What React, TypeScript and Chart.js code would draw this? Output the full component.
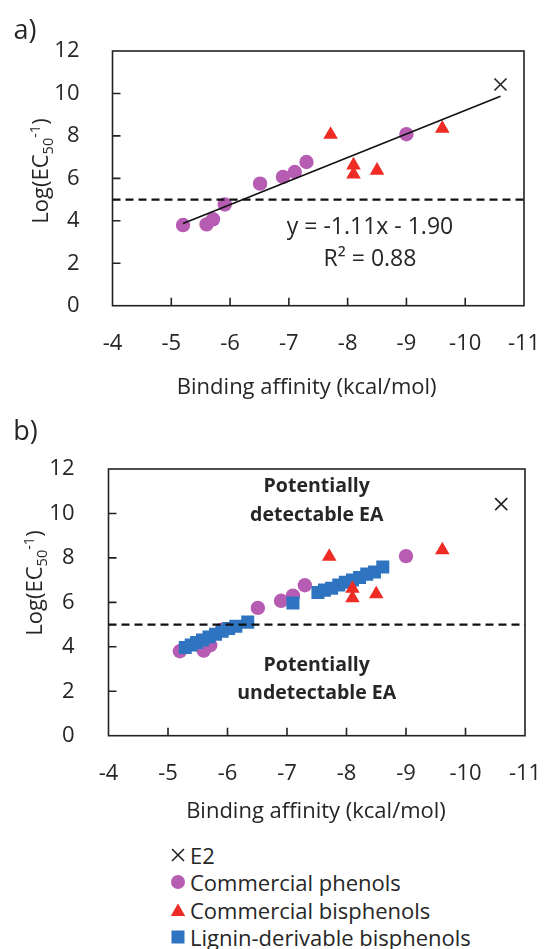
import React, { useEffect, useRef } from "react";
import { Chart, registerables } from "chart.js";

Chart.register(...registerables);

// ---------- data ----------
const xMin = -11;
const xMax = -4;
const yMin = 0;
const yMax = 12;
const xTickMarks = [-5, -6, -7, -8, -9, -10];
const yTickMarks = [2, 4, 6, 8, 10];

const seriesNames = ["E2", "Commercial phenols", "Commercial bisphenols", "Lignin-derivable bisphenols"];

const e2X = [-10.6];
const e2Y = [10.42];

const phenolX = [-5.2, -5.6, -5.71, -5.91, -6.51, -6.9, -7.1, -7.3, -9.0];
const phenolY = [3.8, 3.83, 4.07, 4.77, 5.75, 6.07, 6.3, 6.77, 8.08];

const bisphenolX = [-7.71, -8.1, -8.1, -8.5, -9.61];
const bisphenolY = [8.06, 6.62, 6.19, 6.37, 8.35];

const ligninX = [-5.29, -5.39, -5.48, -5.58, -5.69, -5.8, -5.91, -6.02, -6.14, -6.34, -7.1, -7.52, -7.63, -7.75, -7.87, -7.98, -8.1, -8.22, -8.34, -8.47, -8.61];
const ligninY = [3.97, 4.08, 4.19, 4.31, 4.44, 4.57, 4.7, 4.82, 4.93, 5.11, 5.97, 6.44, 6.55, 6.63, 6.78, 6.9, 7.01, 7.12, 7.27, 7.37, 7.59];

const thresholdY = 5;
const trendSlope = -1.11;
const trendIntercept = -1.9;
const trendXStart = -5.2;
const trendXEnd = -10.6;

const eqText = "y = -1.11x - 1.90";
const r2Text = "R² = 0.88";
const upperText = ["Potentially", "detectable EA"];
const lowerText = ["Potentially", "undetectable EA"];
const xTitle = "Binding affinity (kcal/mol)";

// ---------- styles ----------
const FONT = '"Open Sans", "DejaVu Sans", sans-serif';
const TEXT = "#262626";
const AXIS = "#222222";
const PURPLE = "#B75CB3";
const RED = "#EE2B25";
const BLUE = "#2E74C0";

const pts = (xs: number[], ys: number[]) => xs.map((x, i) => ({ x, y: ys[i] }));

type Ann = { text: string; x: number; y: number; size: number; weight: string };

interface PanelSpec {
  height: number;
  padTop: number;
  padRight: number;
  yAxisWidth: number;
  xAxisHeight: number;
  xTickGap: number;
  yTickPad: number;
  label: string;
  labelPos: [number, number];
  yTitlePos: [number, number];
  xTitlePos: [number, number];
  annotations: Ann[];
  withTrend: boolean;
  withLignin: boolean;
}

function drawYTitle(ctx: CanvasRenderingContext2D, cx: number, cy: number) {
  const parts = [
    { t: "Log(EC", size: 22, dy: 0 },
    { t: "50", size: 14.5, dy: 5 },
    { t: "-1", size: 14.5, dy: -8 },
    { t: ")", size: 22, dy: 0 },
  ];
  ctx.save();
  ctx.translate(cx, cy);
  ctx.rotate(-Math.PI / 2);
  ctx.fillStyle = TEXT;
  ctx.textBaseline = "alphabetic";
  ctx.textAlign = "left";
  let total = 0;
  const widths = parts.map((p) => {
    ctx.font = `${p.size}px ${FONT}`;
    const w = ctx.measureText(p.t).width;
    total += w;
    return w;
  });
  let x = -total / 2;
  const base = 7.8;
  parts.forEach((p, i) => {
    ctx.font = `${p.size}px ${FONT}`;
    ctx.fillText(p.t, x, base + p.dy);
    x += widths[i];
  });
  ctx.restore();
}

function makeDecor(spec: PanelSpec) {
  return {
    id: "decor",
    beforeDatasetsDraw(chart: any) {
      const { ctx, chartArea: a, scales } = chart;
      ctx.save();
      ctx.strokeStyle = AXIS;
      ctx.lineWidth = 1.6;
      ctx.strokeRect(a.left, a.top, a.right - a.left, a.bottom - a.top);
      ctx.beginPath();
      for (const v of xTickMarks) {
        const p = scales.x.getPixelForValue(v);
        ctx.moveTo(p, a.bottom);
        ctx.lineTo(p, a.bottom - 8);
      }
      for (const v of yTickMarks) {
        const p = scales.y.getPixelForValue(v);
        ctx.moveTo(a.left, p);
        ctx.lineTo(a.left + 8, p);
      }
      ctx.stroke();
      ctx.restore();
    },
    afterDraw(chart: any) {
      const { ctx, scales } = chart;
      ctx.save();
      ctx.fillStyle = TEXT;
      ctx.textAlign = "center";
      ctx.textBaseline = "middle";
      ctx.font = `27px ${FONT}`;
      ctx.fillText(spec.label, spec.labelPos[0], spec.labelPos[1]);
      ctx.font = `22px ${FONT}`;
      ctx.fillText(xTitle, spec.xTitlePos[0], spec.xTitlePos[1]);
      for (const an of spec.annotations) {
        ctx.font = `${an.weight} ${an.size}px ${FONT}`;
        ctx.fillText(an.text, scales.x.getPixelForValue(an.x), scales.y.getPixelForValue(an.y));
      }
      ctx.restore();
      drawYTitle(ctx, spec.yTitlePos[0], spec.yTitlePos[1]);
    },
  };
}

function buildConfig(spec: PanelSpec): any {
  const datasets: any[] = [
    {
      label: "threshold",
      data: [
        { x: xMax, y: thresholdY },
        { x: xMin, y: thresholdY },
      ],
      showLine: true,
      pointRadius: 0,
      borderColor: "#111111",
      borderWidth: 2.4,
      borderDash: [8, 5],
    },
  ];
  if (spec.withTrend) {
    datasets.push({
      label: "trend",
      data: [
        { x: trendXStart, y: trendSlope * trendXStart + trendIntercept },
        { x: trendXEnd, y: trendSlope * trendXEnd + trendIntercept },
      ],
      showLine: true,
      pointRadius: 0,
      borderColor: "#111111",
      borderWidth: 1.6,
    });
  }
  datasets.push({
    label: seriesNames[0],
    data: pts(e2X, e2Y),
    pointStyle: "crossRot",
    pointRadius: 8.5,
    borderColor: "#222222",
    borderWidth: 1.6,
    backgroundColor: "#222222",
  });
  datasets.push({
    label: seriesNames[2],
    data: pts(bisphenolX, bisphenolY),
    pointStyle: "triangle",
    pointRadius: 8.4,
    borderWidth: 0,
    backgroundColor: RED,
    borderColor: RED,
  });
  if (spec.withLignin) {
    datasets.push({
      label: seriesNames[3],
      data: pts(ligninX, ligninY),
      pointStyle: "rect",
      pointRadius: 9.2,
      borderWidth: 0,
      backgroundColor: BLUE,
      borderColor: BLUE,
    });
  }
  datasets.push({
    label: seriesNames[1],
    data: pts(phenolX, phenolY),
    pointStyle: "circle",
    pointRadius: 7.2,
    borderWidth: 0,
    backgroundColor: PURPLE,
    borderColor: PURPLE,
  });

  return {
    type: "scatter",
    data: { datasets },
    options: {
      animation: false,
      responsive: false,
      events: [],
      layout: { padding: { top: spec.padTop, right: spec.padRight, left: 0, bottom: 0 } },
      plugins: { legend: { display: false }, tooltip: { enabled: false } },
      scales: {
        x: {
          type: "linear",
          min: xMin,
          max: xMax,
          reverse: true,
          ticks: {
            stepSize: 1,
            padding: 0,
            color: TEXT,
            autoSkip: false,
            maxRotation: 0,
            font: { family: FONT, size: 22 },
          },
          grid: {
            display: true,
            drawOnChartArea: false,
            drawTicks: true,
            tickLength: spec.xTickGap,
            tickColor: "rgba(0,0,0,0)",
          },
          border: { display: false },
          afterFit: (s: any) => {
            s.height = spec.xAxisHeight;
          },
        },
        y: {
          type: "linear",
          min: yMin,
          max: yMax,
          ticks: {
            stepSize: 2,
            padding: spec.yTickPad,
            color: TEXT,
            font: { family: FONT, size: 22 },
          },
          grid: { display: false },
          border: { display: false },
          afterFit: (s: any) => {
            s.width = spec.yAxisWidth;
          },
        },
      },
    },
    plugins: [makeDecor(spec)],
  };
}

const specA: PanelSpec = {
  height: 410,
  padTop: 51,
  padRight: 20,
  yAxisWidth: 112.5,
  xAxisHeight: 104.3,
  xTickGap: 24.5,
  yTickPad: 25,
  label: "a)",
  labelPos: [25, 31],
  yTitlePos: [40, 171],
  xTitlePos: [306.7, 388],
  annotations: [
    { text: eqText, x: -8.38, y: 3.67, size: 23, weight: "normal" },
    { text: r2Text, x: -8.38, y: 2.16, size: 23, weight: "normal" },
  ],
  withTrend: true,
  withLignin: false,
};

const specB: PanelSpec = {
  height: 430,
  padTop: 59,
  padRight: 19,
  yAxisWidth: 108.5,
  xAxisHeight: 104.3,
  xTickGap: 24.5,
  yTickPad: 26,
  label: "b)",
  labelPos: [25.5, 22],
  yTitlePos: [34, 173],
  xTitlePos: [316, 401.7],
  annotations: [
    { text: upperText[0], x: -7.5, y: 11.2, size: 19.5, weight: "bold" },
    { text: upperText[1], x: -7.5, y: 9.92, size: 19.5, weight: "bold" },
    { text: lowerText[0], x: -7.5, y: 3.18, size: 19.5, weight: "bold" },
    { text: lowerText[1], x: -7.5, y: 1.88, size: 19.5, weight: "bold" },
  ],
  withTrend: false,
  withLignin: true,
};

function Panel({ spec, top }: { spec: PanelSpec; top: number }) {
  const ref = useRef<HTMLCanvasElement | null>(null);
  useEffect(() => {
    const canvas = ref.current;
    if (!canvas) return;
    let chart: Chart | null = null;
    let cancelled = false;
    const build = () => {
      if (cancelled) return;
      chart = new Chart(canvas, buildConfig(spec));
    };
    const fonts: any = (document as any).fonts;
    if (fonts && fonts.load) {
      Promise.all([fonts.load(`22px "Open Sans"`), fonts.load(`bold 20px "Open Sans"`)]).then(build, build);
    } else {
      build();
    }
    return () => {
      cancelled = true;
      if (chart) chart.destroy();
    };
  }, [spec]);
  return (
    <canvas
      ref={ref}
      width={544}
      height={spec.height}
      style={{ position: "absolute", left: 0, top, width: 544, height: spec.height }}
    />
  );
}

function LegendSymbol({ kind }: { kind: number }) {
  if (kind === 0)
    return (
      <svg width="16" height="16" viewBox="0 0 16 16">
        <line x1="2" y1="2" x2="14" y2="14" stroke="#222" strokeWidth="1.6" />
        <line x1="14" y1="2" x2="2" y2="14" stroke="#222" strokeWidth="1.6" />
      </svg>
    );
  if (kind === 1)
    return (
      <svg width="16" height="16" viewBox="0 0 16 16">
        <circle cx="8" cy="8" r="7" fill={PURPLE} />
      </svg>
    );
  if (kind === 2)
    return (
      <svg width="16" height="16" viewBox="0 0 16 16">
        <polygon points="8,1.5 15.2,14 0.8,14" fill={RED} />
      </svg>
    );
  return (
    <svg width="16" height="16" viewBox="0 0 16 16">
      <rect x="1.5" y="1.5" width="13" height="13" fill={BLUE} />
    </svg>
  );
}

const legendRowCenters = [855, 882.3, 909.6, 936.9];

export default function App() {
  return (
    <div style={{ position: "absolute", left: 0, top: 0, width: 544, height: 949, background: "#fff", overflow: "hidden" }}>
      <Panel spec={specA} top={0} />
      <Panel spec={specB} top={410} />
      {seriesNames.map((name, i) => (
        <div
          key={name}
          style={{
            position: "absolute",
            left: 170,
            top: legendRowCenters[i] - 14,
            height: 28,
            display: "flex",
            alignItems: "center",
            fontFamily: FONT,
            fontSize: 22,
            color: TEXT,
            whiteSpace: "nowrap",
          }}
        >
          <span style={{ width: 20, display: "inline-flex", alignItems: "center" }}>
            <LegendSymbol kind={i} />
          </span>
          <span>{name}</span>
        </div>
      ))}
    </div>
  );
}
